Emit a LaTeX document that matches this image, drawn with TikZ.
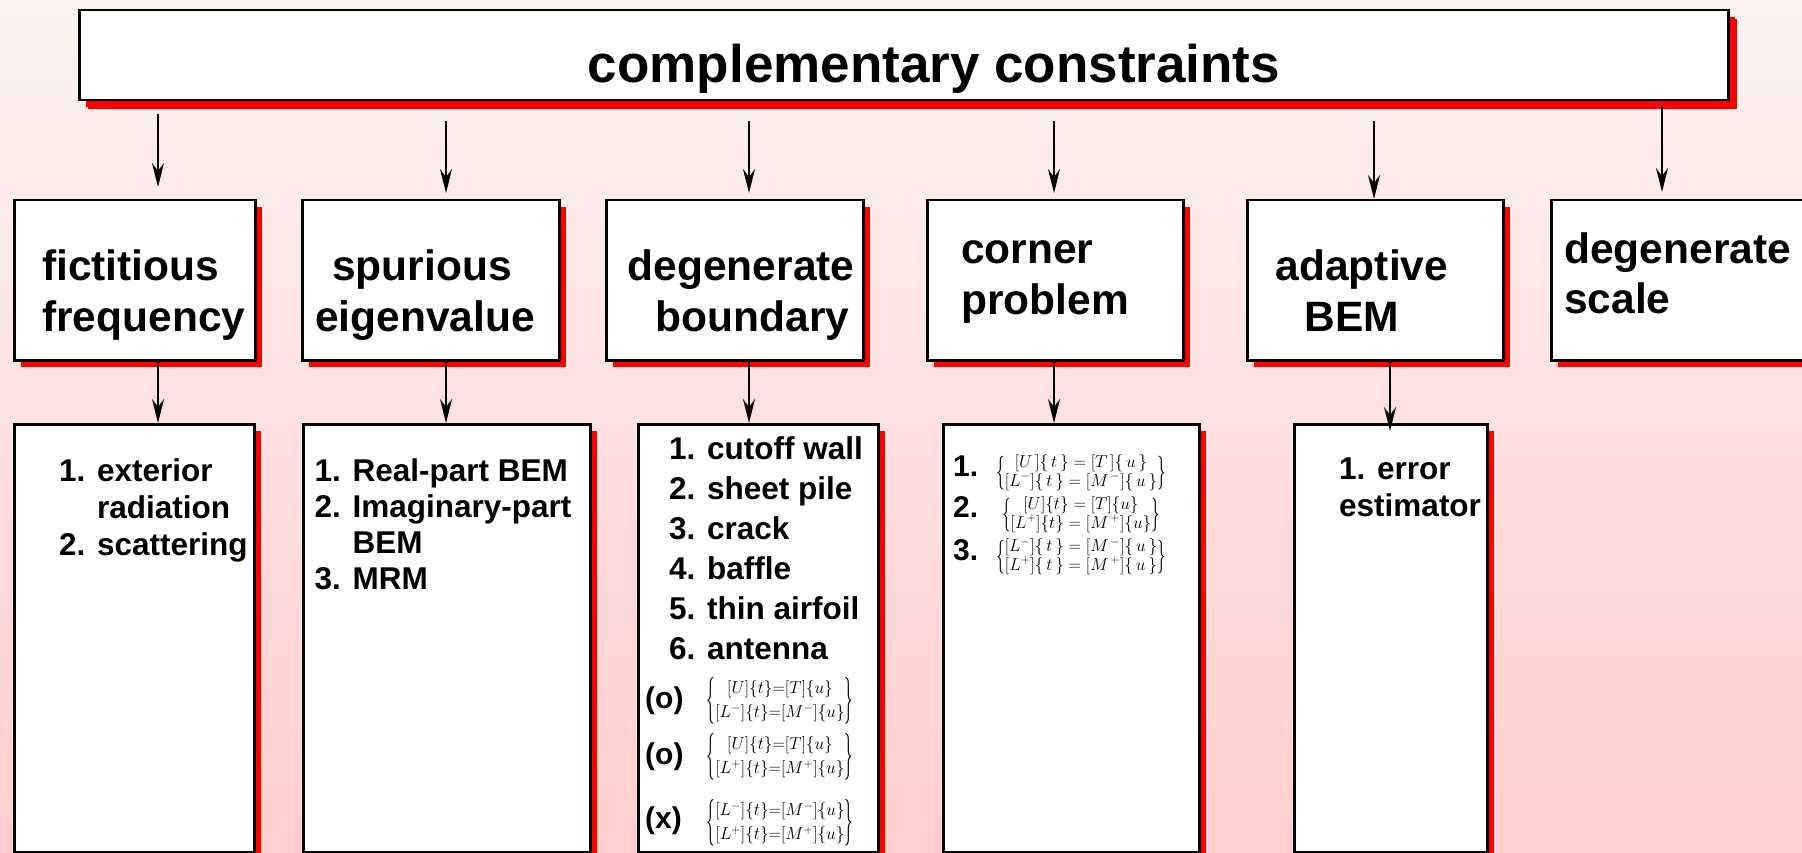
\documentclass[tikz,border=0pt]{standalone}
\usepackage{fontspec}
\usepackage{graphicx}
\setmainfont{Liberation Sans}
\usetikzlibrary{arrows.meta,shadows}
\definecolor{bgtop}{RGB}{253,243,243}
\definecolor{bgbot}{RGB}{255,206,206}
\definecolor{shred}{RGB}{255,0,0}
\newcommand\mylines[2]{\begin{tabular}[t]{@{}#1@{}}#2\end{tabular}}
\newcommand\lbr[1]{\vcenter{\hbox{\scalebox{1}[#1]{$\{$}}}}
\newcommand\rbr[1]{\vcenter{\hbox{\scalebox{1}[#1]{$\}$}}}}
\newcommand\sysD[3]{$\lbr{#1}\begin{array}{@{}c@{}}{#2}\\ {#3}\end{array}\rbr{#1}$}
\tikzset{
  box/.style={draw=black, line width=2.5pt, fill=white, inner sep=0pt, anchor=north west,
    drop shadow={shadow xshift=6.5pt, shadow yshift=-6.5pt, fill=shred, opacity=1}},
  titlebox/.style={box, drop shadow={shadow xshift=9pt, shadow yshift=-9pt, fill=shred, opacity=1}},
  arr/.style={draw=black, line width=2pt, -{Stealth[length=24pt, width=12pt, inset=8pt]}},
  lblA/.style={inner sep=0pt, font=\fontsize{42.5}{51}\selectfont\bfseries, anchor=base west},
  lblB/.style={inner sep=0pt, font=\fontsize{31.5}{37}\selectfont\bfseries, anchor=base west},
  numlbl/.style={inner sep=0pt, font=\fontsize{30}{36}\selectfont\bfseries, anchor=west},
  eqA/.style={inner sep=0pt, font=\fontsize{17.5}{21}\selectfont\def\arraystretch{1.12}},
  eqB/.style={inner sep=0pt, font=\fontsize{18.5}{18}\selectfont},
}
\begin{document}
\begin{tikzpicture}[x=1pt,y=-1pt]
\shade[top color=bgtop, bottom color=bgbot] (0,0) rectangle (1802,853);
\useasboundingbox (0,0) rectangle (1802,853);

% title
\node[titlebox, minimum width=1649pt, minimum height=90pt] (title) at (78,9) {};
\node[inner sep=0pt, anchor=base, font=\fontsize{53}{60}\selectfont\bfseries] (ttext) at (934,83) {complementary constraints};

% level 2 boxes
\node[box, minimum width=241pt, minimum height=160pt] (b1) at (13,199) {};
\node[box, minimum width=257pt, minimum height=160pt] (b2) at (301,199) {};
\node[box, minimum width=257pt, minimum height=160pt] (b3) at (605,199) {};
\node[box, minimum width=256pt, minimum height=160pt] (b4) at (926,199) {};
\node[box, minimum width=256pt, minimum height=160pt] (b5) at (1246,199) {};
\node[box, minimum width=262pt, minimum height=160pt] (b6) at (1550,199) {};

\node[lblA] (t1) at (42,280) {\mylines{l}{fictitious\\frequency}};
\node[lblA] (t2) at (315,280) {\mylines{l}{\hspace*{17pt}spurious\\eigenvalue}};
\node[lblA] (t3) at (627.5,280) {\mylines{l}{degenerate\\\hspace*{28pt}boundary}};
\node[lblA] (t4) at (961,264) {\mylines{l}{corner\\problem}};
\node[lblA] (t5) at (1275.5,280) {\mylines{l}{adaptive\\\hspace*{29pt}BEM}};
\node[lblA] (t6) at (1564,263) {\mylines{l}{degenerate\\scale}};

% level 3 boxes
\node[box, minimum width=240pt, minimum height=428pt] (c1) at (13,423) {};
\node[box, minimum width=287pt, minimum height=428pt] (c2) at (302,423) {};
\node[box, minimum width=240pt, minimum height=428pt] (c3) at (637,423) {};
\node[box, minimum width=256pt, minimum height=428pt] (c4) at (942,423) {};
\node[box, minimum width=193pt, minimum height=428pt] (c5) at (1293,423) {};

\node[lblB] (u1) at (59,481) {\mylines{l}{1. exterior\\\phantom{1. }radiation\\2. scattering}};
\node[lblB, font=\fontsize{31.5}{36}\selectfont\bfseries] (u2) at (314.5,481) {\mylines{l}{1. Real-part BEM\\2. Imaginary-part\\\phantom{2. }BEM\\3. MRM}};
\node[lblB, font=\fontsize{31.5}{40}\selectfont\bfseries] (u3) at (669,459) {\mylines{l}{1. cutoff wall\\2. sheet pile\\3. crack\\4. baffle\\5. thin airfoil\\6. antenna}};
\node[lblB] (u5) at (1339,479) {\mylines{l}{1. error\\estimator}};

% degenerate boundary equations
\node[numlbl] (o1) at (645,701) {(o)};
\node[eqA] (e1) at (780,701) {\sysD{2.7}{[U]\{t\}{=}[T]\{u\}}{[L^-]\{t\}{=}[M^-]\{u\}}};
\node[numlbl] (o2) at (645,757) {(o)};
\node[eqA] (e2) at (780,757) {\sysD{2.7}{[U]\{t\}{=}[T]\{u\}}{[L^+]\{t\}{=}[M^+]\{u\}}};
\node[numlbl] (o3) at (645,821) {(x)};
\node[eqA] (e3) at (780,823) {\sysD{2.7}{[L^-]\{t\}{=}[M^-]\{u\}}{[L^+]\{t\}{=}[M^+]\{u\}}};

% corner problem equations
\node[numlbl] (n1) at (953,466) {1.};
\node[eqB] (f1) at (1081,473) {\sysD{1.95}{[U\,]\{\,t\,\} = [T\,]\{\,u\,\}}{[L^-]\{\,t\,\} = [M^{\,-}]\{\,u\,\}}};
\node[numlbl] (n2) at (953,507) {2.};
\node[eqB] (f2) at (1081,515) {\sysD{1.95}{[U]\{t\} = [T]\{u\}}{[L^+]\{t\} = [M^{\,+}]\{u\}}};
\node[numlbl] (n3) at (953,550) {3.};
\node[eqB] (f3) at (1081,557) {\sysD{1.95}{[L^-]\{\,t\,\} = [M^{\,-}]\{\,u\,\}}{[L^+]\{\,t\,\} = [M^{\,+}]\{\,u\,\}}};

% arrow positions
\coordinate (a1) at (158,0);
\coordinate (a2) at (446,0);
\coordinate (a3) at (749,0);
\coordinate (a4) at (1054,0);
\coordinate (a5) at (1374,0);
\coordinate (a6) at (1662,0);
\coordinate (m5) at (1390,0);

% title -> level 2
\draw[arr, shorten <=13pt, shorten >=12pt] (title.south -| a1) -- (b1.north -| a1);
\draw[arr, shorten <=20pt, shorten >=6pt] (title.south -| a2) -- (b2.north -| a2);
\draw[arr, shorten <=20pt, shorten >=6pt] (title.south -| a3) -- (b3.north -| a3);
\draw[arr, shorten <=20pt, shorten >=6pt] (title.south -| a4) -- (b4.north -| a4);
\draw[arr, shorten <=20pt, shorten >=0pt] (title.south -| a5) -- (b5.north -| a5);
\draw[arr, shorten <=4pt, shorten >=7pt] (title.south -| a6) -- (b6.north -| a6);

% level 2 -> level 3
\draw[arr] (b1.south -| a1) -- (c1.north -| a1);
\draw[arr] (b2.south -| a2) -- (c2.north -| a2);
\draw[arr] (b3.south -| a3) -- (c3.north -| a3);
\draw[arr] (b4.south -| a4) -- (c4.north -| a4);
\draw[arr, shorten >=-8pt] (b5.south -| m5) -- (c5.north -| m5);
\end{tikzpicture}
\end{document}
